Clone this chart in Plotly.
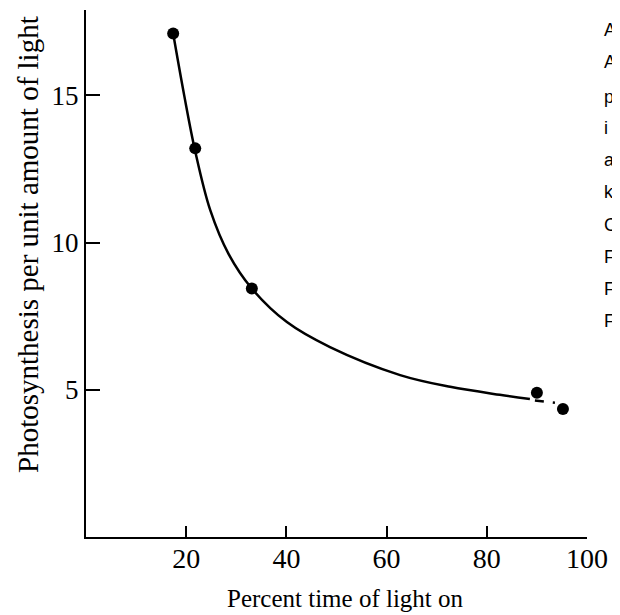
import plotly.graph_objects as go

# measured data points
pct_time = [17.4, 21.8, 33.1, 90.0, 95.2]
photosynthesis = [17.1, 13.2, 8.44, 4.9, 4.35]

# hand-drawn curve
curve_x = [17.4, 19.6, 21.8, 24.8, 28.5, 33.1, 40.1, 48.7, 62.7, 72.7, 82.6, 88.6]
curve_y = [17.1, 15.0, 13.1, 11.1, 9.6, 8.44, 7.3, 6.45, 5.5, 5.10, 4.83, 4.69]

# short dashed connector near the last points
dash_x = [89.6, 93.6]
dash_y = [4.64, 4.56]

x_ticks = [20, 40, 60, 80, 100]
y_ticks = [5, 10, 15]

x_title = "Percent time of light on"
y_title = "Photosynthesis per unit amount of light"

# clipped caption letters at the right edge of the scan
caption_letters = ["A", "A", "p", "i", "a", "k", "C", "F", "F", "F"]
caption_px_y = [30, 62, 97, 128, 160, 192, 225, 257, 289, 321]

serif = "Liberation Serif, Times New Roman, serif"

fig = go.Figure()
fig.add_trace(go.Scatter(x=curve_x, y=curve_y, mode="lines",
                         line=dict(color="black", width=2.5, shape="spline", smoothing=1.0),
                         hoverinfo="skip", showlegend=False))
fig.add_trace(go.Scatter(x=dash_x, y=dash_y, mode="lines",
                         line=dict(color="black", width=2.5, dash="dash"),
                         hoverinfo="skip", showlegend=False))
fig.add_trace(go.Scatter(x=pct_time, y=photosynthesis, mode="markers",
                         marker=dict(color="black", size=12),
                         showlegend=False))

# page body has an 8px margin: compensate so the plot lands where the reference has it
OFF = 8
W, H = 620 - OFF, 615 - OFF
L, R, T, B = 86 - OFF, 33, 10 - OFF, 78
plot_h = H - T - B
plot_w = W - L - R


def px_x(p):
    return (p - 86) / plot_w


def px_y(p):
    return (537 - p) / plot_h


for letter, py in zip(caption_letters, caption_px_y):
    fig.add_annotation(text=letter, xref="paper", yref="paper",
                       x=px_x(602), y=px_y(py),
                       xanchor="left", yanchor="middle", showarrow=False,
                       font=dict(family="Liberation Sans, Arial, sans-serif", size=18, color="black"))

fig.add_annotation(text=y_title, xref="paper", yref="paper", x=px_x(28), y=px_y(245),
                   xanchor="center", yanchor="middle", textangle=-90, showarrow=False,
                   font=dict(family=serif, size=29, color="black"))
fig.add_annotation(text=x_title, xref="paper", yref="paper", x=px_x(345), y=px_y(598),
                   xanchor="center", yanchor="middle", showarrow=False,
                   font=dict(family=serif, size=25, color="black"))

fig.update_layout(
    width=W, height=H,
    margin=dict(l=L, r=R, t=T, b=B),
    plot_bgcolor="white", paper_bgcolor="white",
    font=dict(family=serif, color="black"),
    xaxis=dict(range=[0, 100], tickvals=x_ticks, ticks="inside", ticklen=11, tickwidth=1.5,
               tickcolor="black", showline=True, linecolor="black", linewidth=2,
               showgrid=False, zeroline=False, tickfont=dict(family=serif, size=28),
               ticklabelstandoff=-5, automargin=False),
    yaxis=dict(range=[0, 17.9], tickvals=y_ticks, ticks="inside", ticklen=14, tickwidth=1.5,
               tickcolor="black", showline=True, linecolor="black", linewidth=2,
               showgrid=False, zeroline=False, tickfont=dict(family=serif, size=27),
               automargin=False),
)

fig.write_html("out.html")
